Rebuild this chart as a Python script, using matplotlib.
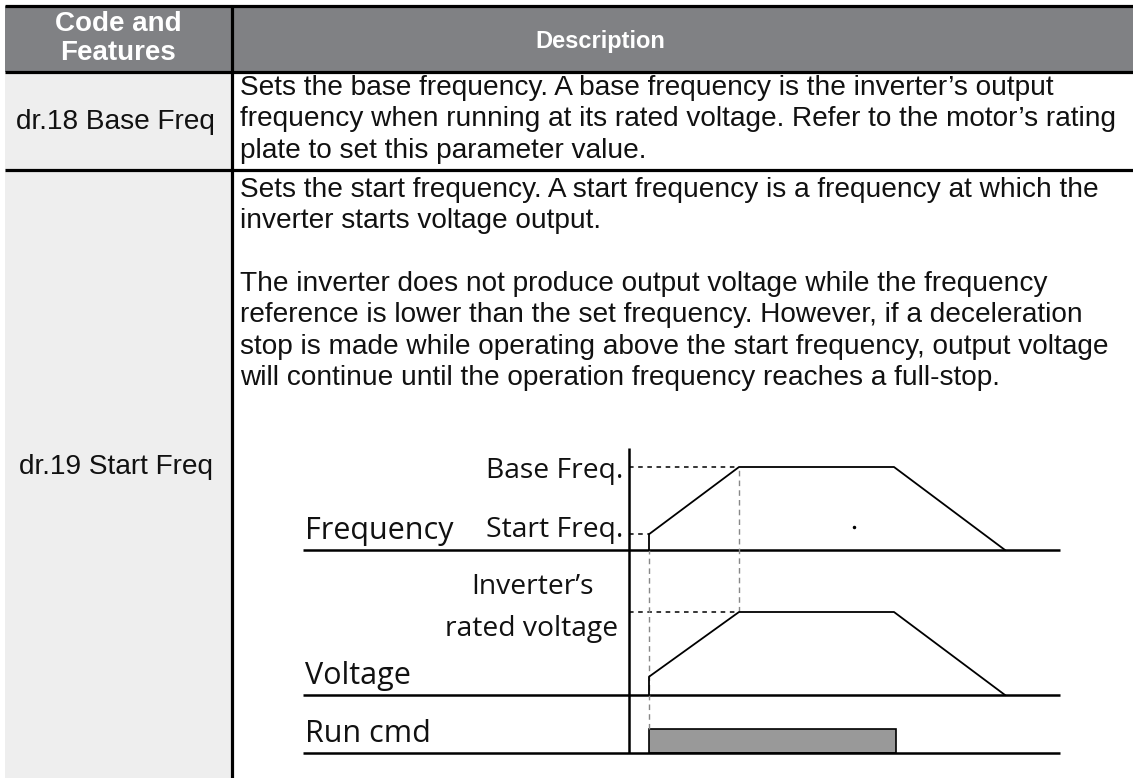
import matplotlib.pyplot as plt
from matplotlib.patches import Rectangle

# table content
header_left = ["Code and", "Features"]
header_right = "Description"
codes = ["dr.18 Base Freq", "dr.19 Start Freq"]
row1_lines = [
    "Sets the base frequency. A base frequency is the inverter\u2019s output",
    "frequency when running at its rated voltage. Refer to the motor\u2019s rating",
    "plate to set this parameter value.",
]
row2_lines = [
    "Sets the start frequency. A start frequency is a frequency at which the",
    "inverter starts voltage output.",
    "",
    "The inverter does not produce output voltage while the frequency",
    "reference is lower than the set frequency. However, if a deceleration",
    "stop is made while operating above the start frequency, output voltage",
    "will continue until the operation frequency reaches a full-stop.",
]

# timing diagram (time in arbitrary units, levels relative to each baseline)
t_wave = [0.2, 0.2, 1.1, 2.65, 3.76]
freq_wave = [0.0, 0.19, 1.0, 1.0, 0.0]
volt_wave = [0.0, 0.22, 1.0, 1.0, 0.0]
run_on, run_off, run_level = 0.2, 2.67, 0.29
t_min, t_max = -3.26, 4.31
channel_names = ["Frequency", "Voltage", "Run cmd"]

W, H = 1133, 778
fig = plt.figure(figsize=(W / 100, H / 100), dpi=100)
ax = fig.add_axes([0, 0, 1, 1])
ax.set_xlim(0, W)
ax.set_ylim(H, 0)
ax.axis("off")

body = dict(family=["Liberation Sans", "DejaVu Sans"], fontsize=20.2, color="#111111")
label = dict(family=["Open Sans", "DejaVu Sans"], fontsize=20.3, color="#111111")
chan = dict(family=["Open Sans", "DejaVu Sans"], fontsize=22, color="#111111")

# background fills
ax.add_patch(Rectangle((5, 6), W - 5, 66, color="#808184", lw=0))
ax.add_patch(Rectangle((5, 72), 227, H - 72, color="#eeeeee", lw=0))

# rules
lw = 2.3
ax.plot([5, W], [5.5, 5.5], color="black", lw=lw, solid_capstyle="butt")
ax.plot([5, W], [72, 72], color="black", lw=lw, solid_capstyle="butt")
ax.plot([5, W], [169.5, 169.5], color="black", lw=lw, solid_capstyle="butt")
ax.plot([232, 232], [5, H], color="black", lw=lw, solid_capstyle="butt")

# header text
hdr = dict(family=["Liberation Sans", "DejaVu Sans"], fontsize=20, color="white",
           fontweight="bold", ha="center", va="center")
ax.text(118, 24, header_left[0], **hdr)
ax.text(118, 53, header_left[1], **hdr)
ax.text(600, 41, header_right, **{**hdr, "fontsize": 17})

# code column
ax.text(115, 122, codes[0], ha="center", va="center", **body)
ax.text(116, 467, codes[1], ha="center", va="center", **body)

# description text
step = 31.3
for i, s in enumerate(row1_lines):
    ax.text(240, 88 + i * step, s, ha="left", va="center", **body)
for i, s in enumerate(row2_lines):
    ax.text(240, 190 + i * step, s, ha="left", va="center", **body)

# diagram axes: 100 px per time unit, 83 px per level unit
L, R, T, B = 290, 1070, 430, 770
x0, y0, sy = 629, 753, 83.0
dax = fig.add_axes([L / W, (H - B) / H, (R - L) / W, (B - T) / H])
dax.set_xlim((L - x0) / 100, (R - x0) / 100)
dax.set_ylim((y0 - B) / sy, (y0 - T) / sy)
dax.axis("off")

run_base = 0.0
volt_base = (753 - 695) / sy
freq_base = (753 - 550) / sy

# vertical axis
dax.plot([0, 0], [run_base, (753 - 448) / sy], color="black", lw=1.8, solid_capstyle="butt")

# baselines
for b in (freq_base, volt_base, run_base):
    dax.plot([t_min, t_max], [b, b], color="black", lw=1.8, solid_capstyle="butt")

# guide lines
dash = (0, (3, 3))
dax.plot([0, t_wave[2]], [freq_base + 1, freq_base + 1], color="black", lw=1.1, ls=dash)
dax.plot([0, t_wave[1]], [freq_base + freq_wave[1]] * 2, color="black", lw=1.1, ls=dash)
dax.plot([0, t_wave[2]], [volt_base + 1, volt_base + 1], color="black", lw=1.1, ls=dash)
dax.plot([t_wave[0]] * 2, [run_level, freq_base], color="#888888", lw=1.0, ls=(0, (4, 3)))
dax.plot([t_wave[2]] * 2, [volt_base + 1, freq_base + 1], color="#888888", lw=1.0, ls=(0, (4, 3)))

# waveforms
dax.plot(t_wave, [freq_base + v for v in freq_wave], color="black", lw=1.3)
dax.plot(t_wave, [volt_base + v for v in volt_wave], color="black", lw=1.3)
dax.add_patch(Rectangle((run_on, run_base), run_off - run_on, run_level,
                        facecolor="#999999", edgecolor="black", lw=1.2))
dax.plot([2.25], [freq_base + 0.28], marker="o", ms=1.5, color="black")

# labels
dax.text(-0.06, freq_base + 0.95, "Base Freq.", ha="right", va="center", **label)
dax.text(-0.06, freq_base + 0.24, "Start Freq.", ha="right", va="center", **label)
dax.text(-0.97, volt_base + 1.30, "Inverter\u2019s", ha="center", va="center", **label)
dax.text(-0.97, volt_base + 0.80, "rated voltage", ha="center", va="center", **label)
dax.text(t_min + 0.02, freq_base + 0.05, channel_names[0], ha="left", va="bottom", **chan)
dax.text(t_min + 0.02, volt_base + 0.05, channel_names[1], ha="left", va="bottom", **chan)
dax.text(t_min + 0.02, run_base + 0.05, channel_names[2], ha="left", va="bottom", **chan)

fig.savefig("out.png", dpi=100)
